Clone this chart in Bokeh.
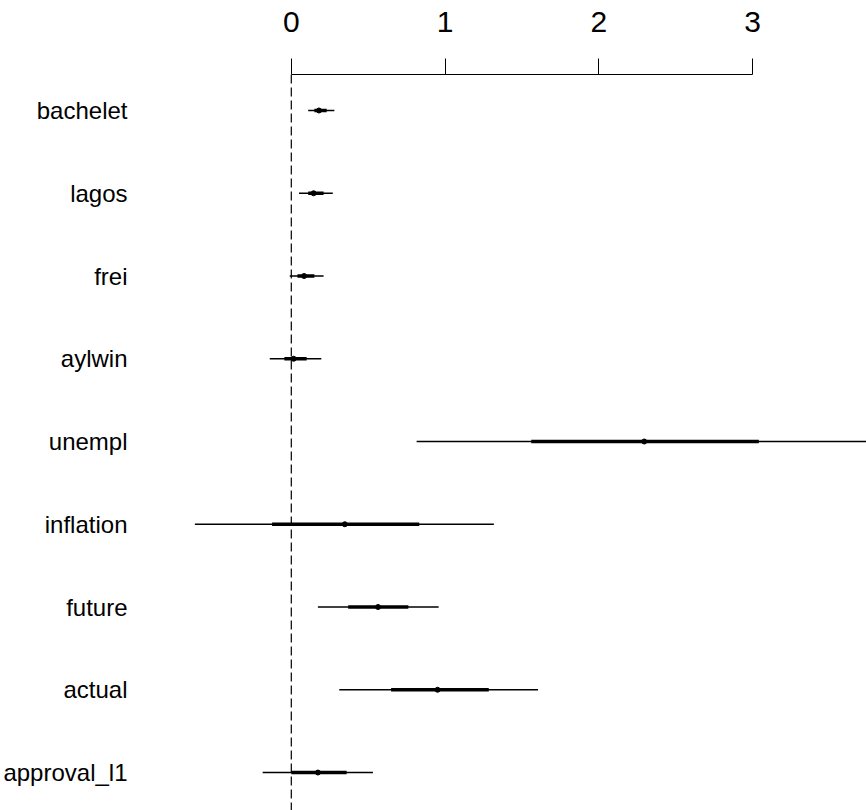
from bokeh.plotting import figure
from bokeh.models import Range1d, FixedTicker, LinearAxis, Span, ColumnDataSource
from bokeh.embed import file_html
from bokeh.resources import INLINE

# ---- data ----
names = ["bachelet", "lagos", "frei", "aylwin", "unempl", "inflation", "future", "actual", "approval_l1"]
coef = [0.18, 0.145, 0.083, 0.015, 2.295, 0.348, 0.564, 0.951, 0.173]
lo_1se = [0.15, 0.11, 0.04, -0.045, 1.56, -0.125, 0.37, 0.649, 0.0]
hi_1se = [0.23, 0.21, 0.15, 0.10, 3.04, 0.832, 0.761, 1.284, 0.36]
lo_2se = [0.11, 0.05, -0.01, -0.14, 0.815, -0.627, 0.173, 0.312, -0.186]
hi_2se = [0.28, 0.27, 0.21, 0.195, 3.78, 1.317, 0.958, 1.604, 0.531]
x_ticks = [0, 1, 2, 3]

rows = list(range(1, len(names) + 1))
src = ColumnDataSource(dict(row=rows, coef=coef, lo1=lo_1se, hi1=hi_1se, lo2=lo_2se, hi2=hi_2se))

FONT = "Liberation Sans"
NARROW = "'Liberation Sans Narrow', 'Liberation Sans', Arial, sans-serif"

p = figure(width=866, height=810, output_backend="svg", toolbar_location=None,
           x_axis_location=None, y_axis_location=None,
           x_range=Range1d(-0.948, 3.740), y_range=Range1d(9.459, 0.565),
           min_border_left=140, min_border_right=0, min_border_top=74, min_border_bottom=0)
p.outline_line_color = None
p.xgrid.visible = False
p.ygrid.visible = False
p.background_fill_color = "white"
p.border_fill_color = "white"

# top axis
xa = LinearAxis(ticker=FixedTicker(ticks=x_ticks), bounds=(0, 3))
xa.major_tick_out = 16
xa.major_tick_in = 0
xa.minor_tick_out = 0
xa.minor_tick_in = 0
xa.major_label_standoff = 27
xa.major_label_text_font = NARROW
xa.major_label_text_font_size = "30px"
xa.major_label_text_color = "black"
xa.axis_line_color = "black"
xa.major_tick_line_color = "black"
p.add_layout(xa, "above")

# left labels
ya = LinearAxis(ticker=FixedTicker(ticks=rows),
                major_label_overrides={r: n for r, n in zip(rows, names)})
ya.axis_line_color = None
ya.major_tick_line_color = None
ya.minor_tick_line_color = None
ya.major_label_standoff = 12
ya.major_label_text_font = FONT
ya.major_label_text_font_size = "24px"
ya.major_label_text_color = "black"
p.add_layout(ya, "left")

# zero reference line
p.add_layout(Span(location=0, dimension="height", line_color="black",
                  line_width=1.2, line_dash="9 4"))

# intervals
p.segment(x0="lo2", x1="hi2", y0="row", y1="row", source=src, line_color="black", line_width=1.5)
p.segment(x0="lo1", x1="hi1", y0="row", y1="row", source=src, line_color="black", line_width=3.5)
p.scatter(x="coef", y="row", source=src, marker="circle", size=5,
          fill_color="black", line_color="black")

open("out.html", "w").write(file_html(p, INLINE))
